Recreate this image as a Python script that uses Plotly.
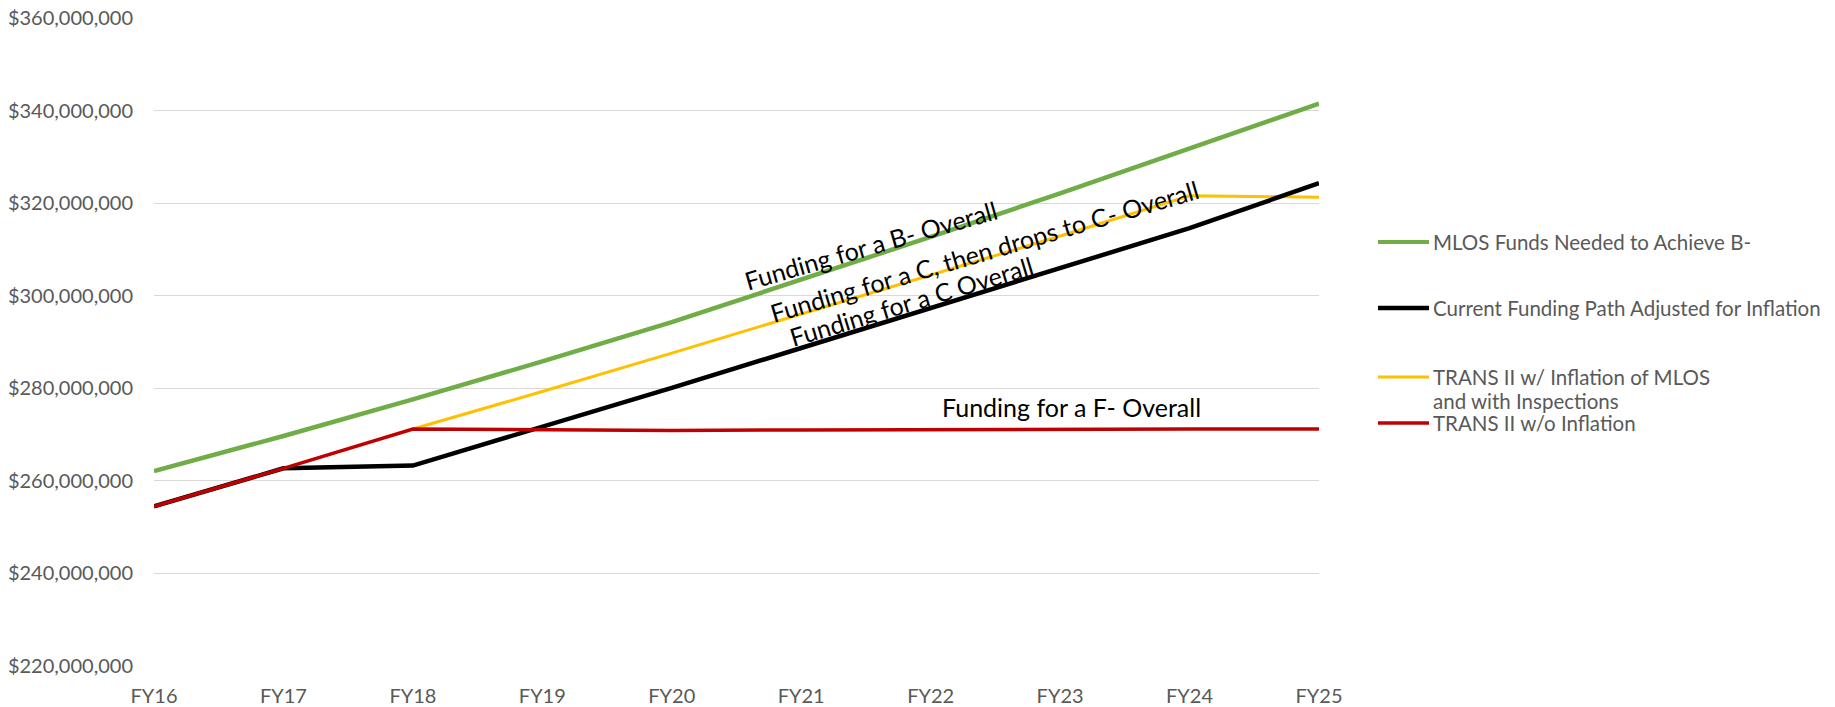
import plotly.graph_objects as go

# ---- data ----
years = ["FY16", "FY17", "FY18", "FY19", "FY20", "FY21", "FY22", "FY23", "FY24", "FY25"]
mlos_b_minus = [262.1, 269.7, 277.6, 285.8, 294.3, 303.4, 312.7, 322.1, 331.7, 341.5]
current_path = [254.5, 262.7, 263.3, 271.6, 280.1, 288.7, 297.3, 305.9, 314.6, 324.3]
trans2_infl = [None, None, 271.2, 279.3, 287.6, 296.0, 304.4, 312.9, 321.6, 321.3]
trans2_noinfl = [254.5, 262.7, 271.2, 271.1, 270.9, 271.0, 271.1, 271.1, 271.2, 271.2]
y_ticks = [220, 240, 260, 280, 300, 320, 340, 360]

M = 1_000_000
def scale(vals):
    return [None if v is None else v * M for v in vals]

series = [
    ("MLOS Funds Needed to Achieve B-", mlos_b_minus, "#70AD47", 4.5),
    ("TRANS II w/ Inflation of MLOS and with Inspections", trans2_infl, "#FFC000", 3),
    ("Current Funding Path Adjusted for Inflation", current_path, "#000000", 4.5),
    ("TRANS II w/o Inflation", trans2_noinfl, "#C00000", 3.5),
]

W, H = 1835, 707
L, R, T, B = 154, 1319, 18, 666

fig = go.Figure()
for name, vals, color, width in series:
    fig.add_trace(go.Scatter(
        x=years, y=scale(vals), mode="lines", name=name,
        line=dict(color=color, width=width), showlegend=False,
        connectgaps=False,
    ))

FONT = "Lato, Calibri, sans-serif"
fig.update_layout(
    width=W, height=H,
    margin=dict(l=L, r=W - R, t=T, b=H - B, autoexpand=False),
    plot_bgcolor="white", paper_bgcolor="white",
    font=dict(family=FONT, color="#595959", size=20),
)
fig.update_xaxes(
    type="category", range=[0, len(years) - 1], automargin=False,
    showgrid=False, zeroline=False, showline=False,
    ticks="outside", ticklen=12, tickcolor="rgba(0,0,0,0)",
    tickfont=dict(size=20, color="#595959"),
)
fig.update_yaxes(
    range=[220 * M, 360 * M], automargin=False,
    tickvals=[v * M for v in y_ticks],
    ticktext=["${:,}".format(v * M) for v in y_ticks],
    showgrid=True, gridcolor="#D9D9D9", gridwidth=1,
    zeroline=False, showline=False,
    ticks="outside", ticklen=16, tickcolor="rgba(0,0,0,0)",
    tickfont=dict(size=20, color="#595959"),
)

# in-chart labels
labels = [
    ("Funding for a B- Overall", 5.537, 311.0, -16),
    ("Funding for a C, then drops to C- Overall", 6.413, 309.7, -16.3),
    ("Funding for a C Overall", 5.85, 298.9, -16.8),
    ("Funding for a F- Overall", 7.09, 276.05, 0),
]
for text, xi, yv, ang in labels:
    fig.add_annotation(
        x=xi, y=yv * M, xref="x", yref="y", text=text, showarrow=False,
        textangle=ang, font=dict(family=FONT, size=25, color="#000000"),
        xanchor="center", yanchor="middle",
    )

# manual legend
def px2paper(px, py):
    return (px - L) / (R - L), (B - py) / (B - T)

legend_rows = [
    ("#70AD47", 4, 242, ["MLOS Funds Needed to Achieve B-"]),
    ("#000000", 4.5, 308, ["Current Funding Path Adjusted for Inflation"]),
    ("#FFC000", 3, 377, ["TRANS II w/ Inflation of MLOS", "and with Inspections"]),
    ("#C00000", 3.5, 423, ["TRANS II w/o Inflation"]),
]
LINE_STEP = 24
for color, width, py, lines in legend_rows:
    x0, y0 = px2paper(1378, py)
    x1, _ = px2paper(1429, py)
    fig.add_shape(type="line", xref="paper", yref="paper",
                  x0=x0, x1=x1, y0=y0, y1=y0,
                  line=dict(color=color, width=width))
    for i, text in enumerate(lines):
        tx, ty = px2paper(1431, py + i * LINE_STEP)
        fig.add_annotation(
            x=tx, y=ty, xref="paper", yref="paper", text=text, showarrow=False,
            xanchor="left", yanchor="middle", align="left",
            font=dict(family=FONT, size=20.5, color="#595959"),
        )

fig.write_html("out.html")
